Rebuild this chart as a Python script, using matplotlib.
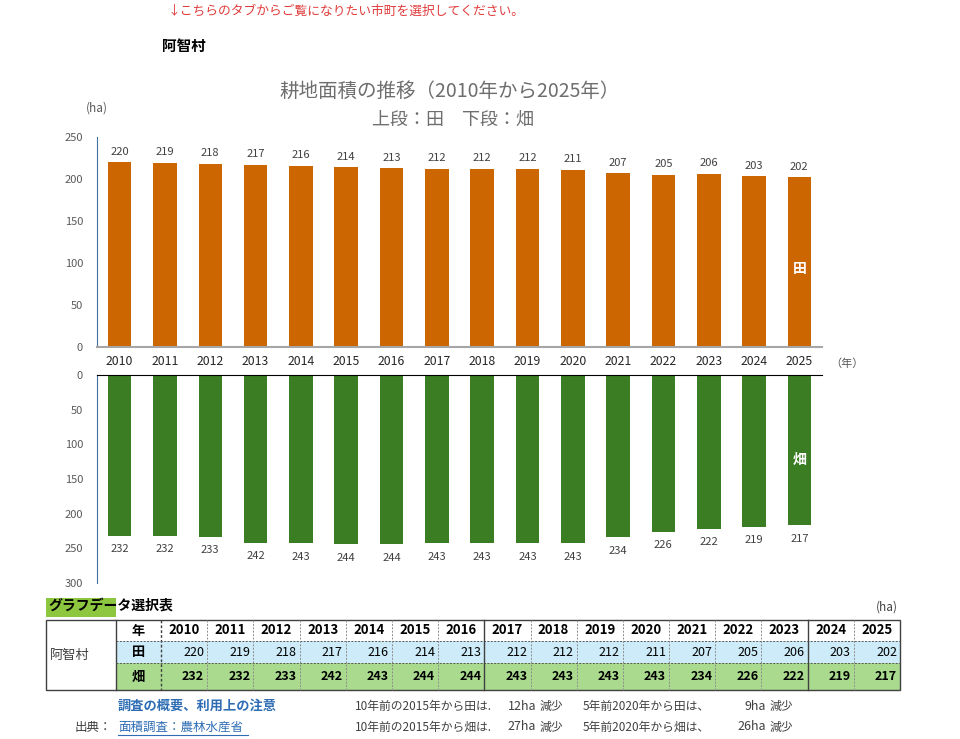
import matplotlib.pyplot as plt
from matplotlib.patches import Rectangle

plt.rcParams['font.family'] = ['Noto Sans CJK JP', 'DejaVu Sans']

# データ
years = ['2010', '2011', '2012', '2013', '2014', '2015', '2016', '2017',
         '2018', '2019', '2020', '2021', '2022', '2023', '2024', '2025']
ta = [220, 219, 218, 217, 216, 214, 213, 212, 212, 212, 211, 207, 205, 206, 203, 202]
hata = [232, 232, 233, 242, 243, 244, 244, 243, 243, 243, 243, 234, 226, 222, 219, 217]
muni = '阿智村'

orange = '#CC6600'
green = '#3B7D23'
gray = '#595959'

W, H = 960, 739
fig = plt.figure(figsize=(9.6, 7.39), dpi=100)


def px_axes(x0, y0, x1, y1):
    # ピクセル座標で軸を配置
    return fig.add_axes([x0 / W, 1 - y1 / H, (x1 - x0) / W, (y1 - y0) / H])


bg = fig.add_axes([0, 0, 1, 1])
bg.set_xlim(0, W)
bg.set_ylim(H, 0)
bg.axis('off')

ax1 = px_axes(97, 137, 822, 347)
ax2 = px_axes(97, 375, 822, 583)
x = list(range(len(years)))

# 上段：田
ax1.bar(x, ta, width=0.52, color=orange)
for i, v in zip(x, ta):
    ax1.annotate(str(v), (i, v), xytext=(0, 4), textcoords='offset points',
                 ha='center', va='bottom', fontsize=8, color='#404040')
ax1.set_xlim(-0.5, 15.5)
ax1.set_ylim(0, 250)
ax1.set_yticks(range(0, 251, 50))
ax1.set_xticks(x, years)
ax1.tick_params(axis='x', length=0, pad=6, labelsize=8.8, labelcolor='#262626')
ax1.tick_params(axis='y', length=0, pad=10, labelsize=8, labelcolor=gray)
for s in ['top', 'right']:
    ax1.spines[s].set_visible(False)
ax1.spines['left'].set_color('#41719C')
ax1.spines['bottom'].set_color('#A6A6A6')
ax1.spines['bottom'].set_linewidth(1.5)
ax1.text(15, 93, '田', color='white', fontsize=10, fontweight='bold', ha='center', va='center')

# 下段：畑
ax2.bar(x, hata, width=0.52, color=green)
for i, v in zip(x, hata):
    ax2.annotate(str(v), (i, v), xytext=(0, -6), textcoords='offset points',
                 ha='center', va='top', fontsize=8, color='#404040')
ax2.set_xlim(-0.5, 15.5)
ax2.set_ylim(300, 0)
ax2.set_yticks(range(0, 301, 50))
ax2.set_xticks([])
ax2.tick_params(axis='y', length=0, pad=10, labelsize=8, labelcolor=gray)
for s in ['bottom', 'right']:
    ax2.spines[s].set_visible(False)
ax2.spines['left'].set_color('#41719C')
ax2.spines['top'].set_color('black')
ax2.text(15, 123, '畑', color='white', fontsize=10, fontweight='bold', ha='center', va='center')

# 見出しなど
bg.text(168, 11, '↓こちらのタブからご覧になりたい市町を選択してください。', color='#E03C3C',
        fontsize=9.2, va='center')
bg.text(162, 46, muni, fontsize=10.5, fontweight='bold', va='center')
bg.text(450, 91, f'耕地面積の推移（{years[0]}年から{years[-1]}年）', color='#6E6E6E', fontsize=14,
        ha='center', va='center')
bg.text(453, 120, '上段：田　下段：畑', color='#6E6E6E', fontsize=13, ha='center', va='center')
bg.text(86, 108, '(ha)', color=gray, fontsize=8.5, va='center')
bg.text(830, 364, '（年）', color=gray, fontsize=8, va='center')

# グラフデータ選択表
bg.add_patch(Rectangle((46, 598), 70, 19, color='#8DC63F', lw=0))
bg.text(48, 607, 'グラフデータ選択表', fontsize=10, fontweight='bold', va='center')
bg.text(898, 607, '(ha)', fontsize=8.5, color='#404040', va='center', ha='right')

tx0, tx1, tx2, tx3 = 46, 116, 161, 900
ry = [620, 641, 663, 690]
cw = (tx3 - tx2) / len(years)
bg.add_patch(Rectangle((tx1, ry[1]), tx3 - tx1, ry[2] - ry[1], color='#CDEBF8', lw=0))
bg.add_patch(Rectangle((tx1, ry[2]), tx3 - tx1, ry[3] - ry[2], color='#A9DA8E', lw=0))
bg.add_patch(Rectangle((tx0, ry[0]), tx3 - tx0, ry[3] - ry[0], fill=False, ec='#404040', lw=1))
bg.plot([tx1, tx1], [ry[0], ry[3]], color='#404040', lw=1)
bg.plot([tx2, tx2], [ry[0], ry[3]], color='#404040', lw=1, ls=(0, (2, 1.5)))
for r in ry[1:3]:
    bg.plot([tx1, tx3], [r, r], color='#595959', lw=0.7, ls=(0, (2, 1.5)))
for i in range(1, len(years)):
    xe = tx2 + i * cw
    if years[i] in ('2017', '2024'):
        bg.plot([xe, xe], [ry[0], ry[3]], color='#404040', lw=1)
    else:
        bg.plot([xe, xe], [ry[0], ry[3]], color='#8C8C8C', lw=0.7, ls=(0, (2, 1.5)))

bg.text(50, (ry[0] + ry[3]) / 2, muni, fontsize=9.5, color='#404040', va='center')
for lab, r in zip(['年', '田', '畑'], range(3)):
    bg.text((tx1 + tx2) / 2, (ry[r] + ry[r + 1]) / 2, lab, fontsize=9.5, fontweight='bold',
            ha='center', va='center')
for i, yr in enumerate(years):
    xl = tx2 + i * cw
    bg.text(xl + cw / 2, (ry[0] + ry[1]) / 2, yr, fontsize=9.5, fontweight='bold',
            ha='center', va='center')
    bg.text(xl + cw - 3, (ry[1] + ry[2]) / 2, str(ta[i]), fontsize=9, ha='right', va='center')
    bg.text(xl + cw - 3, (ry[2] + ry[3]) / 2, str(hata[i]), fontsize=9, fontweight='bold',
            ha='right', va='center')

# 注記
blue = '#2E6DB4'
bg.text(118, 706, '調査の概要、利用上の注意', color=blue, fontsize=9.5, fontweight='bold', va='center')
bg.text(75, 727, '出典：', color='#404040', fontsize=9, va='center')
bg.text(118, 727, '面積調査：農林水産省', color=blue, fontsize=9, va='center')
bg.plot([118, 248], [735, 735], color=blue, lw=0.8)

i10, i5 = years.index('2015'), years.index('2020')
notes = [('田', ta, 706), ('畑', hata, 727)]
for name, vals, yy in notes:
    bg.text(355, yy, f'10年前の{years[i10]}年から{name}は.', color='#404040', fontsize=8.5, va='center')
    bg.text(536, yy, f'{vals[i10] - vals[-1]}ha', color='#404040', fontsize=9, va='center', ha='right')
    bg.text(540, yy, '減少', color='#404040', fontsize=8.5, va='center')
    bg.text(583, yy, f'5年前{years[i5]}年から{name}は、', color='#404040', fontsize=8.5, va='center')
    bg.text(766, yy, f'{vals[i5] - vals[-1]}ha', color='#404040', fontsize=9, va='center', ha='right')
    bg.text(770, yy, '減少', color='#404040', fontsize=8.5, va='center')

fig.savefig('out.png', dpi=100)
